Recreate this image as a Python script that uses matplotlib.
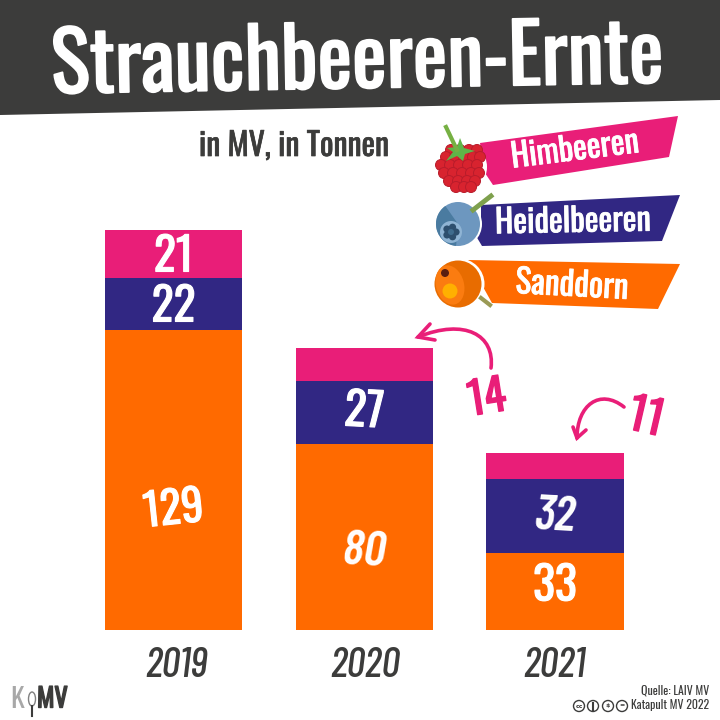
import numpy as np
from matplotlib import pyplot as plt
from matplotlib import patheffects as pe
from matplotlib.patches import Polygon, Circle, Ellipse, PathPatch
from matplotlib.path import Path
from matplotlib.transforms import Affine2D

years = ['2019', '2020', '2021']
sanddorn = [129, 80, 33]
heidelbeeren = [22, 27, 32]
himbeeren = [21, 14, 11]

PINK = '#e91e78'
PURPLE = '#312783'
ORANGE = '#ff6a00'
DARK = '#3c3c3b'
MAIN = ['Oswald', 'Barlow Condensed', 'DejaVu Sans']
SLANT = ['Barlow Condensed', 'DejaVu Sans']
plt.rcParams['font.family'] = MAIN

fig = plt.figure(figsize=(7.2, 7.2), dpi=100)

# bars, axes placed so that tonnes map to the pixels of the original
ax = fig.add_axes([0, 0, 1, 1])
ax.set_xlim(-173.5 / 190.75, (720 - 173.5) / 190.75)
ax.set_ylim(-90 / 2.328, 630 / 2.328)
ax.axis('off')
x = np.arange(3)
w = 0.72
s = np.array(sanddorn)
h = np.array(heidelbeeren)
b = np.array(himbeeren)
ax.bar(x, s, w, color=ORANGE)
ax.bar(x, h, w, bottom=s, color=PURPLE)
ax.bar(x, b, w, bottom=s + h, color=PINK)

# overlay in pixels for the decoration
px = fig.add_axes([0, 0, 1, 1])
px.set_xlim(0, 720)
px.set_ylim(720, 0)
px.axis('off')
px.patch.set_alpha(0)


def label(xp, yp, txt, size, color='white', rot=0, weight='normal', ha='center', bold=0.0, fam=MAIN, style='normal'):
    t = px.text(xp, yp, txt, fontsize=size, color=color, rotation=rot, weight=weight, family=fam, style=style,
                ha=ha, va='center', rotation_mode='anchor')
    if bold:
        t.set_path_effects([pe.withStroke(linewidth=bold, foreground=color)])


# header
px.add_patch(Polygon([(0, 0), (720, 0), (720, 100), (0, 115)], color=DARK, lw=0))
label(357, 63, 'Strauchbeeren-Ernte', 59, rot=1, bold=1.3)
label(294, 146, 'in MV, in Tonnen', 23, color=DARK, bold=0.5)

# value labels
cx = x * 190.75 + 173.5
label(cx[0], 510, str(s[0]), 32, rot=6, bold=0.8)
label(cx[1], 552, str(s[1]), 36, fam=SLANT, style='italic', weight=600, rot=-3)
label(cx[2], 586, str(s[2]), 33, bold=0.8)
label(cx[0], 307, str(h[0]), 33, bold=0.8)
label(cx[1], 412, str(h[1]), 33, rot=-3, bold=0.8)
label(cx[2], 517, str(h[2]), 36, fam=SLANT, style='italic', weight=600, rot=-3)
label(cx[0], 257, str(b[0]), 33, bold=0.8)
for i in range(3):
    label(cx[i] + [3, 1, 0][i], 666, years[i], 30, color=DARK, fam=SLANT, style='italic', weight=500)

# increments with hand drawn arrows
label(487, 399, str(himbeeren[1]), 32, color=PINK, rot=9, bold=1)
label(646, 418, str(himbeeren[2]), 33, color=PINK, rot=-13, bold=1)
arrows = [
    ([(491, 368), (495, 335), (465, 318), (418, 337)], [(430, 324), (418, 337), (435, 340)]),
    ([(624, 407), (600, 388), (577, 405), (577, 438)], [(573, 427), (577, 438), (586, 430)]),
]
for curve, head in arrows:
    px.add_patch(PathPatch(Path(curve, [Path.MOVETO, Path.CURVE4, Path.CURVE4, Path.CURVE4]),
                           fc='none', ec=PINK, lw=2.6, capstyle='round'))
    px.plot(*zip(*head), color=PINK, lw=2.6, solid_capstyle='round', solid_joinstyle='miter')

# legend ribbons
px.add_patch(Polygon([(480, 143), (678, 116), (669, 157), (493, 185), (485, 173)], color=PINK, lw=0))
px.add_patch(Polygon([(481, 205), (680, 195), (662, 241), (482, 246), (476, 236), (481, 228)], color=PURPLE, lw=0))
px.add_patch(Polygon([(468, 260), (680, 264), (658, 309), (492, 303)], color=ORANGE, lw=0))
label(575, 150, 'Himbeeren', 23.5, rot=7, bold=0.6)
label(573, 222, 'Heidelbeeren', 23.5, rot=1, bold=0.6)
label(572, 285, 'Sanddorn', 24, rot=-3, bold=0.6)

# raspberry
px.plot([446, 457], [127, 150], color='#76b043', lw=3)
px.add_patch(Ellipse((460, 167), 54, 54, color='white', lw=0))
for yy, xs in [(150, [451, 460, 469, 477]), (157, [446, 455, 464, 473, 480]), (165, [441, 450, 459, 468, 477]),
               (173, [444, 453, 462, 471, 479]), (181, [449, 458, 467, 475]), (187, [456, 464, 471])]:
    for xx in xs:
        px.add_patch(Circle((xx, yy), 5.5, fc='#d8232f', ec='#b81c2b', lw=0.7))
px.add_patch(Polygon([(446, 161), (453, 152), (447, 148), (457, 147), (460, 138), (464, 148), (475, 151), (465, 154),
                      (463, 161), (457, 156)], color='#5fb548', lw=0))

# blueberry
px.plot([473, 491], [210, 196], color='#7ea04d', lw=3.5)
px.add_patch(Circle((458, 224), 24, color='white', lw=0))
px.add_patch(Circle((458, 224), 22, color='#6d97bf', lw=0))
px.add_patch(PathPatch(Path.wedge(95, 235).transformed(Affine2D().scale(22).translate(458, 224)), fc='#4a7ba0', lw=0))
px.add_patch(Circle((451, 232), 11, color='#8fb4d4', lw=0))
for a in np.arange(0, 360, 72):
    px.add_patch(Circle((451 + 5 * np.cos(np.radians(a)), 232 + 5 * np.sin(np.radians(a))), 3.6, color='#2d4f6e', lw=0))
px.add_patch(Circle((451, 232), 3, color='#3f6c8e', lw=0))

# sea buckthorn
px.plot([481, 490], [298, 305], color='#9a9a55', lw=3)
px.add_patch(Circle((459, 284), 25.5, color='white', lw=0))
px.add_patch(Circle((458, 284), 23.5, color='#e86c00', lw=0))
px.add_patch(Ellipse((450, 285), 28, 40, angle=-15, color='#fb7c10', lw=0))
px.add_patch(Circle((445, 273), 4, color='#5a1e10', lw=0))
px.add_patch(Circle((450, 291), 7.5, color='#ffb000', lw=0))

# footer
label(709, 690, 'Quelle: LAIV MV', 8.5, color=DARK, ha='right')
label(709, 705, 'Katapult MV 2022', 8.5, color=DARK, ha='right')
for c, sym in zip([579, 593, 608, 622], ['cc', '', '$', '=']):
    px.add_patch(Circle((c, 706), 5.5, fc='none', ec=DARK, lw=1))
    px.text(c, 706, sym, fontsize=4.5, color=DARK, ha='center', va='center', family=['DejaVu Sans'], weight='bold')
px.plot([593, 593], [703, 710], color=DARK, lw=1.5)

# logo
label(10, 699, 'K', 20, color='#a8a8a8', ha='left')
px.add_patch(Ellipse((32, 699), 7, 14, fc='none', ec='#808080', lw=1))
px.plot([32, 32], [706, 716], color=DARK, lw=1.5)
label(37, 699, 'MV', 19, color=DARK, ha='left', bold=1)

fig.savefig('out.png', dpi=100)
